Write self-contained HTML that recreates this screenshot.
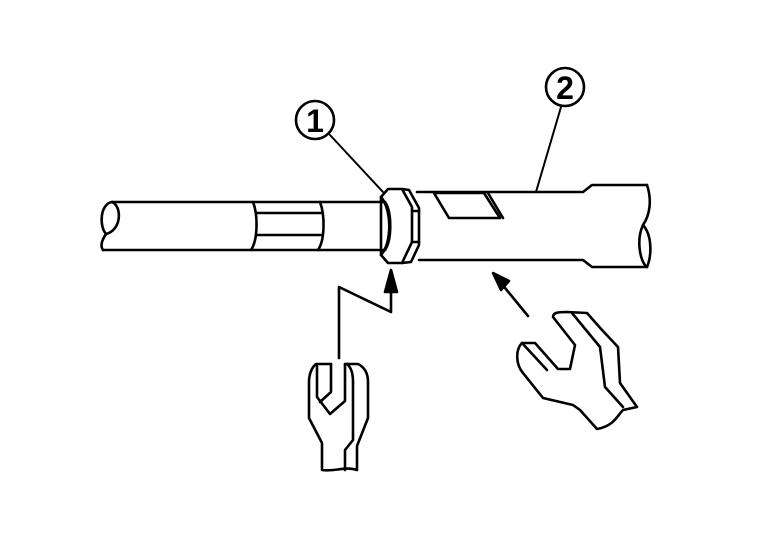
<!DOCTYPE html>
<html><head><style>html,body{margin:0;padding:0;background:#fff;width:768px;height:544px;overflow:hidden}</style></head>
<body>
<svg width="768" height="544" viewBox="0 0 768 544" xmlns="http://www.w3.org/2000/svg" fill="none" stroke="#000" stroke-width="2.6" stroke-linejoin="round" stroke-linecap="round">
<circle cx="315" cy="120" r="19"/>
<text x="315" y="132" font-family="Liberation Sans, sans-serif" font-size="32" font-weight="bold" text-anchor="middle" fill="#000" stroke="none">1</text>
<circle cx="565" cy="87" r="19"/>
<text x="565" y="99" font-family="Liberation Sans, sans-serif" font-size="32" font-weight="bold" text-anchor="middle" fill="#000" stroke="none">2</text>
<line x1="330" y1="135" x2="383" y2="192" stroke-width="2"/>
<line x1="561" y1="107" x2="536" y2="192" stroke-width="2"/>
<path d="M112,202 L385,202"/>
<path d="M103,250 L385,250"/>
<path d="M112,202 C100,204 99,226 106,234 C102,240 100,246 103,250"/>
<path d="M112,202 C122,206 122,230 106,234"/>
<path d="M253,202 C258,215 258,240 251,250"/>
<path d="M320,202 C325,215 325,240 318,250"/>
<line x1="256" y1="213" x2="322" y2="213"/>
<line x1="256" y1="235" x2="322" y2="235"/>
<path d="M385,202 C392,212 392,240 385,250"/>
<path d="M381,197 L388,189 L402,189 L412,207 L412,242 L402,263 L388,263 L381,255 Z"/>
<path d="M402,189 L409,190 L419,208 L419,245 L411,262 L402,263"/>
<path d="M381,197 C392,210 392,243 381,255"/>
<line x1="412" y1="211" x2="419" y2="211"/>
<line x1="412" y1="242" x2="419" y2="242"/>
<path d="M417,192 L583,192 L592,185 L647,185"/>
<path d="M419,260 L583,260 L592,267 L647,267"/>
<path d="M647,185 C652,200 650,215 643,225 C636,240 640,262 647,267 C652,255 652,235 643,225"/>
<path d="M434,193 L449,218 L500,218 L484,193 Z"/>
<line x1="488" y1="193" x2="503" y2="218"/>
<path d="M339,358 L339,287 L391,312 L391,283"/>
<path d="M385,292 L391,270 L397,292 Z" fill="#000"/>
<line x1="528" y1="316" x2="501" y2="283"/>
<path d="M493,273 L509,281 L501,290 Z" fill="#000"/>
<path d="M331,364 L316,364 C312,367 309,374 309,382 L309,418 L322,443 L322,470 C334,472 345,466 357,470 L357,446 L368,418 L368,382 C368,375 366,368 358,364 L345,364"/>
<path d="M331,364 L331,392 L320,402 M317,366 L317,397 L330,414 L345,401 L345,364"/>
<path d="M347,364 C352,368 353,375 353,382 L353,440 L345,450 L345,470"/>
<path d="M522,343 L535,343 L558,369 L570,369 L575,345 L553,317 C553,313 556,312 567,312 L587,313 L602,330 L618,347 L620,383 L637,407 L623,410 C617,416 614,426 597,429 L580,410 L573,405 L543,398 L523,373 C516,365 515,350 522,343 Z"/>
<path d="M522,343 L547,370"/>
<path d="M572,313 L600,347 L605,387 L623,407"/>
</svg>
</body></html>
